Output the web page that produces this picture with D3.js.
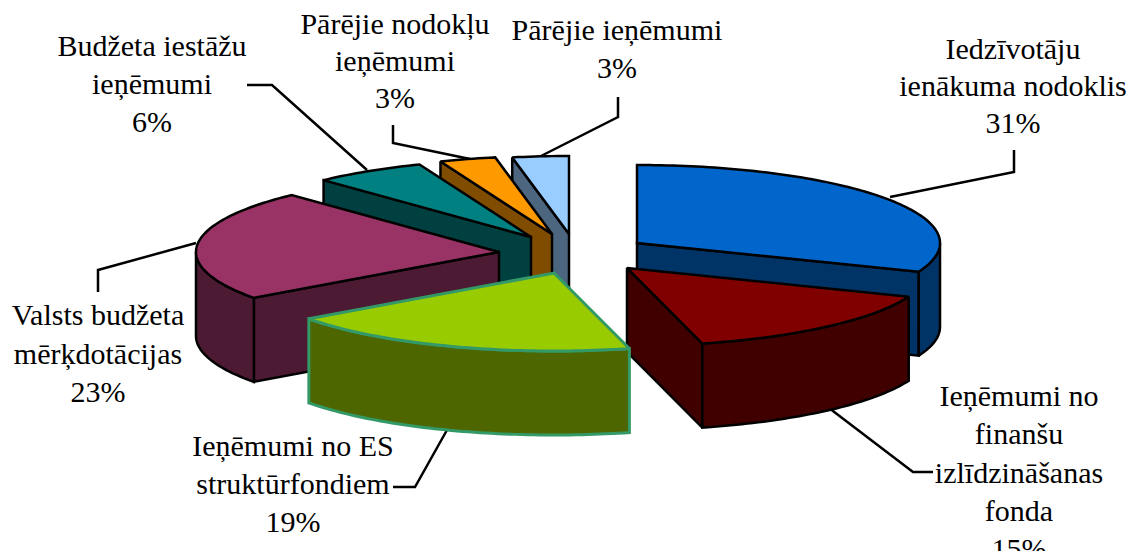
<!DOCTYPE html>
<html><head><meta charset="utf-8">
<script src="https://cdn.jsdelivr.net/npm/d3@7"></script>
<style>html,body{margin:0;padding:0;background:#fff;overflow:hidden}svg{display:block}text{font-family:"Liberation Serif",serif;font-size:30px;fill:#000}</style>
</head><body><svg id="c" width="1138" height="551"></svg>
<script>
const categories = ["Iedzīvotāju ienākuma nodoklis","Ieņēmumi no finanšu izlīdzināšanas fonda","Ieņēmumi no ES struktūrfondiem","Valsts budžeta mērķdotācijas","Budžeta iestāžu ieņēmumi","Pārējie nodokļu ieņēmumi","Pārējie ieņēmumi"];
const values = [31,15,19,23,6,3,3];
const topColors = ["#0066CC","#800000","#99CC00","#993366","#008080","#FF9900","#99CCFF"];
const sideColors = ["#003366","#400000","#4D6600","#4D1A33","#004040","#804D00","#4D6680"];
const strokeColors = ["#000","#000","#339966","#000","#000","#000","#000"];
const apexX = [637,627,554,499,531,552,569];
const apexY = [243,268,273,252,237,234,234];
const labelLines = [["Iedzīvotāju","ienākuma nodoklis"],["Ieņēmumi no","finanšu","izlīdzināšanas","fonda"],["Ieņēmumi no ES","struktūrfondiem"],["Valsts budžeta","mērķdotācijas"],["Budžeta iestāžu","ieņēmumi"],["Pārējie nodokļu","ieņēmumi"],["Pārējie ieņēmumi"]];
const labelX = [1013,1019,293,98,152,395,617];
const labelY = [59,406,456,325,56,34,40];
const labelStep = [37,38.3,38,38.5,38,37,38];
const leaders = [[[890,197],[1014,172],[1014,150]],[[829,408],[913,472],[933,472]],[[447,430],[415,487],[393,487]],[[196,243],[98,270],[98,292]],[[367,170],[272,85],[247,85]],[[470,159],[393,143],[393,125]],[[541,156],[618,117],[618,97]]];
const drawOrder = [6,5,4,3,0,1,2];

const RX = 303, RY = 78, DEPTH = 84;
const svg = d3.select("#c");
const arcs = d3.pie().sort(null).startAngle(0).endAngle(2*Math.PI)(values);

const lineGen = d3.line();
function rim(i, a0, a1, dy){
  const n = Math.max(2, Math.ceil((a1-a0)/0.02));
  const s = d3.scaleLinear().domain([0,n]).range([a0,a1]);
  return d3.range(n+1).map(k => [apexX[i]+RX*Math.sin(s(k)), apexY[i]-RY*Math.cos(s(k))+dy]);
}
function face(g, pts, fill, stroke, w){
  g.append("path").attr("d", lineGen(pts)+"Z").attr("fill",fill).attr("stroke",stroke)
   .attr("stroke-width",w).attr("stroke-linejoin","miter").attr("stroke-miterlimit",2);
}
const lg = svg.append("g");
leaders.forEach(l => lg.append("path").attr("d",lineGen(l)).attr("fill","none").attr("stroke","#000").attr("stroke-width",2.5));

drawOrder.forEach(i => {
  const {startAngle:a0, endAngle:a1} = arcs[i];
  const g = svg.append("g");
  const w = i===2 ? 3 : 2.5;
  const ax = apexX[i], ay = apexY[i];
  const wall = (a) => {
    const p = rim(i,a,a,0)[0];
    face(g, [[ax,ay],p,[p[0],p[1]+DEPTH],[ax,ay+DEPTH]], sideColors[i], strokeColors[i], w);
  };
  if (a0 > Math.PI) wall(a0);
  if (a1 < Math.PI) wall(a1);
  const f0 = Math.max(a0, Math.PI/2), f1 = Math.min(a1, 3*Math.PI/2);
  if (f1 > f0) face(g, rim(i,f0,f1,0).concat(rim(i,f0,f1,DEPTH).reverse()), sideColors[i], strokeColors[i], w);
  face(g, [[ax,ay]].concat(rim(i,a0,a1,0)), topColors[i], strokeColors[i], w);
});

categories.forEach((c,i) => {
  const lines = labelLines[i].concat([values[i]+"%"]);
  const t = svg.append("text").attr("text-anchor","middle");
  lines.forEach((s,k) => t.append("tspan").attr("x",labelX[i]).attr("y",labelY[i]+k*labelStep[i]).text(s));
});
</script></body></html>
